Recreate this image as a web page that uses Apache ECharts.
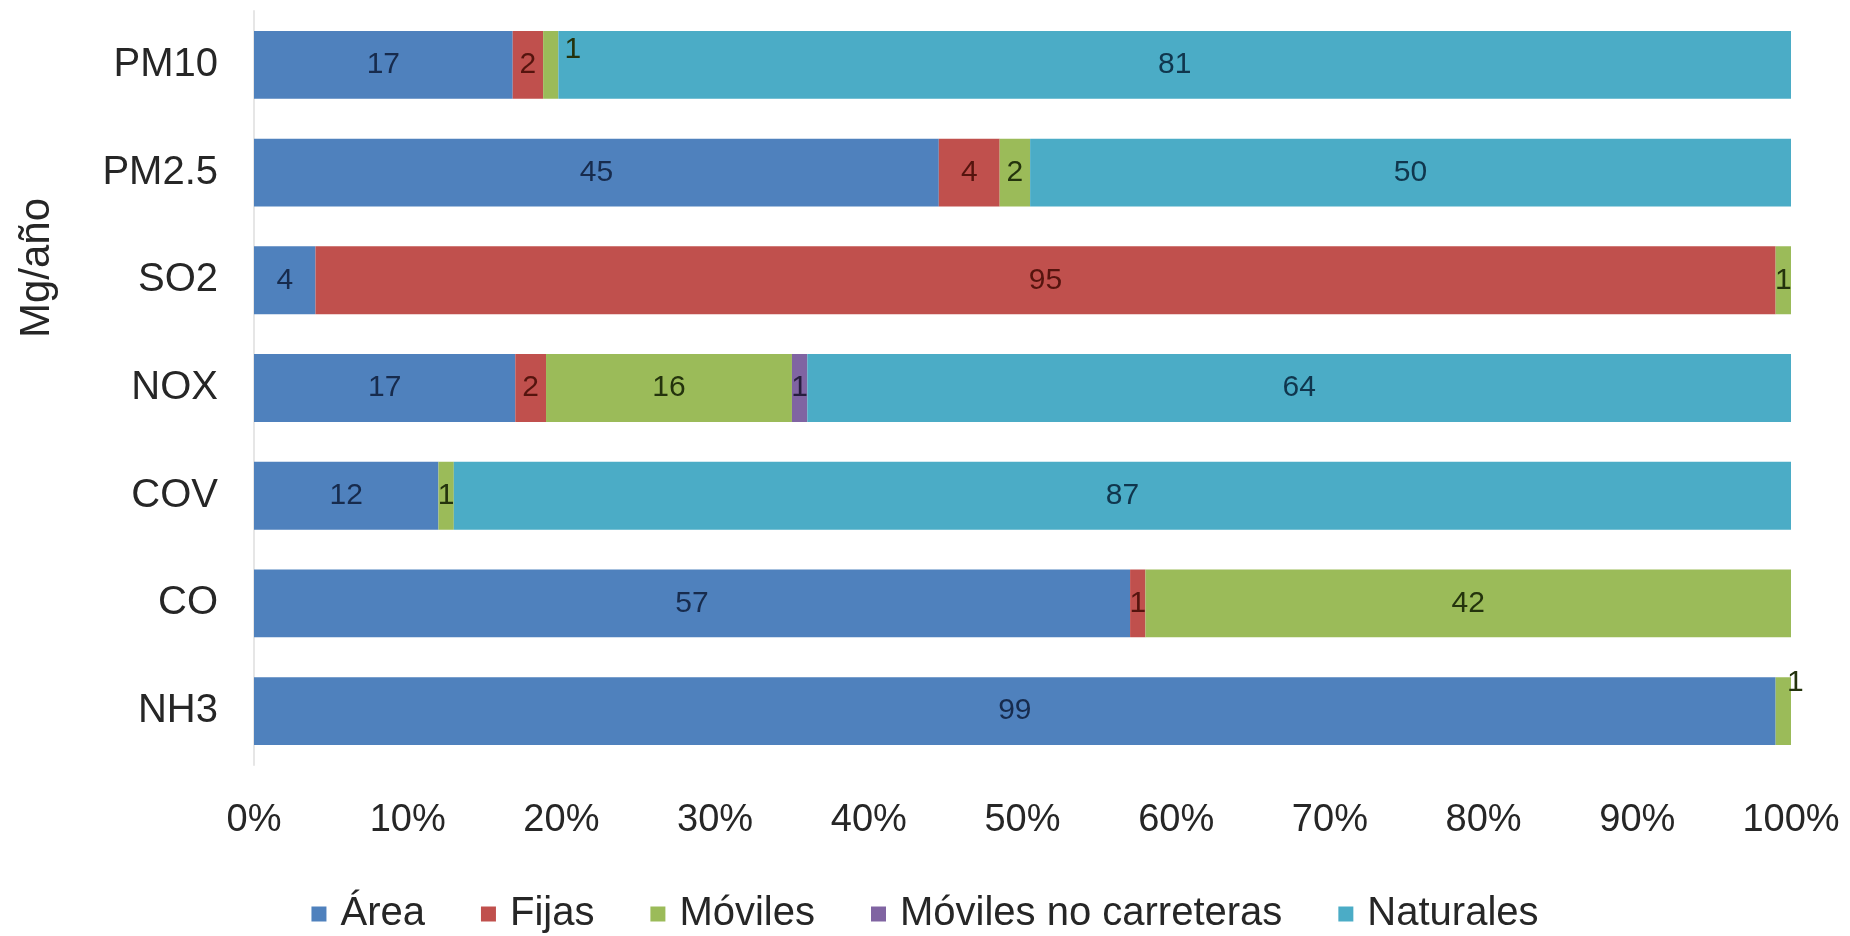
<!DOCTYPE html>
<html>
<head>
<meta charset="utf-8">
<script src="https://cdn.jsdelivr.net/npm/echarts@6/dist/echarts.min.js"></script>
<style>
  html, body { margin: 0; padding: 0; background: #ffffff; }
  #chart { width: 1850px; height: 936px; }
</style>
</head>
<body>
<div id="chart"></div>
<script>
const categories = ['PM10', 'PM2.5', 'SO2', 'NOX', 'COV', 'CO', 'NH3'];
const seriesNames = ['Área', 'Fijas', 'Móviles', 'Móviles no carreteras', 'Naturales'];
const area       = [17, 45,  4, 17, 12, 57, 99];
const fijas      = [ 2,  4, 95,  2,  0,  1,  0];
const moviles    = [ 1,  2,  1, 16,  1, 42,  1];
const movilesNC  = [ 0,  0,  0,  1,  0,  0,  0];
const naturales  = [81, 50,  0, 64, 87,  0,  0];
const xTickLabels = ['0%', '10%', '20%', '30%', '40%', '50%', '60%', '70%', '80%', '90%', '100%'];

const seriesValues = [area, fijas, moviles, movilesNC, naturales];
const colors = ['#4F81BD', '#C0504D', '#9BBB59', '#8064A2', '#4BACC6'];
const labelColors = ['#172b4d', '#55140e', '#24330d', '#271e3e', '#10364d'];
// small label nudges for tiny overlapping segments (series index, category index)
const labelNudges = { '2|0': [22, -15], '2|6': [12, -28] };

const totals = categories.map((c, i) => seriesValues.reduce((s, arr) => s + arr[i], 0));

const FONT = '"Liberation Sans", Arial, sans-serif';

const series = seriesNames.map((name, si) => ({
  name: name,
  type: 'bar',
  stack: 'total',
  barCategoryGap: '37%',
  itemStyle: { color: colors[si] },
  label: {
    show: true,
    position: 'inside',
    fontFamily: FONT,
    fontSize: 30,
    color: labelColors[si],
    formatter: p => (p.data.raw > 0 ? String(p.data.raw) : '')
  },
  data: categories.map((c, ci) => {
    const raw = seriesValues[si][ci];
    const item = { value: raw / totals[ci] * 100, raw: raw };
    const nudge = labelNudges[si + '|' + ci];
    if (nudge) item.label = { offset: nudge };
    return item;
  })
}));

const chart = echarts.init(document.getElementById('chart'));
chart.setOption({
  animation: false,
  backgroundColor: '#ffffff',
  grid: { left: 254, right: 59, top: 11, bottom: 171, containLabel: false },
  xAxis: {
    type: 'value',
    min: 0,
    max: 100,
    interval: 10,
    axisLine: { show: false },
    axisTick: { show: false },
    splitLine: { show: false },
    axisLabel: {
      margin: 37,
      fontFamily: FONT,
      fontSize: 38,
      color: '#262626',
      formatter: v => xTickLabels[Math.round(v / 10)]
    }
  },
  yAxis: {
    type: 'category',
    inverse: true,
    data: categories,
    axisLine: { show: true, lineStyle: { color: '#e6e6e6', width: 2 } },
    axisTick: { show: false },
    axisLabel: {
      margin: 36,
      fontFamily: FONT,
      fontSize: 40,
      color: '#262626'
    }
  },
  legend: {
    data: seriesNames,
    left: 'center',
    top: 889,
    itemGap: 56,
    itemWidth: 15,
    itemHeight: 15,
    icon: 'rect',
    textStyle: {
      fontFamily: FONT,
      fontSize: 40,
      color: '#262626',
      padding: [0, 0, 0, 9]
    }
  },
  graphic: [{
    type: 'text',
    x: 37,
    y: 268,
    rotation: Math.PI / 2,
    style: {
      text: 'Mg/año',
      font: '42px "Liberation Sans", Arial, sans-serif',
      fill: '#262626',
      textAlign: 'center',
      textVerticalAlign: 'middle'
    }
  }],
  series: series
});
</script>
</body>
</html>
